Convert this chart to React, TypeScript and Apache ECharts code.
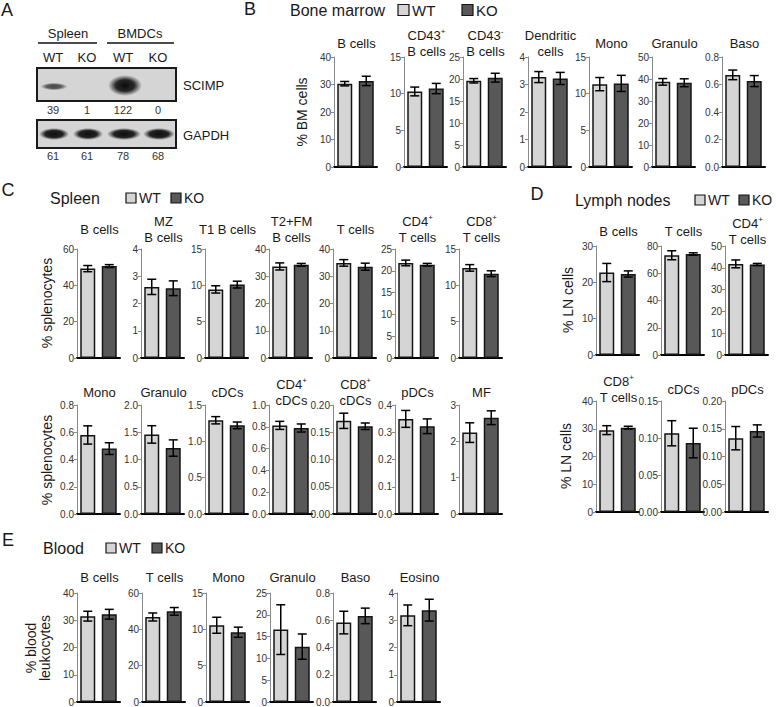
import React, { useEffect, useRef } from 'react';
import * as echarts from 'echarts';

// ---------- DATA ----------
const GROUPS = ['WT', 'KO'];

// Panel A: western blot quantification
const blotTissues = ['Spleen', 'BMDCs'];
const blotLanes = ['WT', 'KO', 'WT', 'KO'];
const scimpValues = [39, 1, 122, 0];
const gapdhValues = [61, 61, 78, 68];

// Panel B: Bone marrow
const bmTitles = ['B cells', 'CD43{s|+}\nB cells', 'CD43{s|-}\nB cells', 'Dendritic\ncells', 'Mono', 'Granulo', 'Baso'];
const bmWT = [30.3, 10.3, 19.6, 3.27, 11.3, 38.7, 0.67];
const bmWTErr = [0.8, 0.6, 0.5, 0.2, 0.9, 1.5, 0.035];
const bmKO = [31.3, 10.7, 20.3, 3.22, 11.4, 38.3, 0.625];
const bmKOErr = [1.7, 0.7, 1.0, 0.22, 1.1, 1.8, 0.04];
const bmMax = [40, 15, 25, 4, 15, 50, 0.8];
const bmStep = [10, 5, 5, 1, 5, 10, 0.2];
const bmDec = [0, 0, 0, 0, 0, 0, 1];

// Panel C (top): Spleen
const spTopTitles = ['B cells', 'MZ\nB cells', 'T1 B cells', 'T2+FM\nB cells', 'T cells', 'CD4{s|+}\nT cells', 'CD8{s|+}\nT cells'];
const spTopWT = [49.2, 2.61, 9.44, 33.6, 34.9, 21.8, 12.4];
const spTopWTErr = [1.7, 0.28, 0.5, 1.3, 1.2, 0.65, 0.45];
const spTopKO = [50.6, 2.56, 10.1, 34.2, 33.5, 21.4, 11.6];
const spTopKOErr = [0.8, 0.27, 0.47, 0.5, 1.3, 0.3, 0.4];
const spTopMax = [60, 4, 15, 40, 40, 25, 15];
const spTopStep = [20, 1, 5, 10, 10, 5, 5];
const spTopDec = [0, 0, 0, 0, 0, 0, 0];

// Panel C (bottom): Spleen
const spBotTitles = ['Mono', 'Granulo', 'cDCs', 'CD4{s|+}\ncDCs', 'CD8{s|+}\ncDCs', 'pDCs', 'MF'];
const spBotWT = [0.58, 1.46, 1.29, 0.813, 0.171, 0.349, 2.24];
const spBotWTErr = [0.067, 0.16, 0.05, 0.037, 0.014, 0.031, 0.27];
const spBotKO = [0.48, 1.21, 1.22, 0.789, 0.161, 0.322, 2.65];
const spBotKOErr = [0.043, 0.15, 0.046, 0.037, 0.006, 0.027, 0.19];
const spBotMax = [0.8, 2.0, 1.5, 1.0, 0.2, 0.4, 3];
const spBotStep = [0.2, 0.5, 0.5, 0.2, 0.05, 0.1, 1];
const spBotDec = [1, 1, 1, 1, 2, 1, 0];

// Panel D (top): Lymph nodes
const lnTopTitles = ['B cells', 'T cells', 'CD4{s|+}\nT cells'];
const lnTopWT = [22.7, 73.2, 41.8];
const lnTopWTErr = [2.5, 3.3, 1.8];
const lnTopKO = [22.3, 74.1, 41.5];
const lnTopKOErr = [0.85, 0.9, 0.5];
const lnTopMax = [30, 80, 50];
const lnTopStep = [10, 20, 10];
const lnTopDec = [0, 0, 0];

// Panel D (bottom): Lymph nodes
const lnBotTitles = ['CD8{s|+}\nT cells', 'cDCs', 'pDCs'];
const lnBotWT = [29.5, 0.1064, 0.133];
const lnBotWTErr = [1.6, 0.017, 0.021];
const lnBotKO = [30.4, 0.0932, 0.146];
const lnBotKOErr = [0.5, 0.02, 0.011];
const lnBotMax = [40, 0.15, 0.2];
const lnBotStep = [10, 0.05, 0.05];
const lnBotDec = [0, 2, 2];

// Panel E: Blood
const blTitles = ['B cells', 'T cells', 'Mono', 'Granulo', 'Baso', 'Eosino'];
const blWT = [31.5, 46.8, 10.56, 16.6, 0.583, 3.18];
const blWTErr = [1.8, 2.2, 1.1, 5.7, 0.083, 0.38];
const blKO = [32.2, 49.9, 9.6, 12.7, 0.632, 3.37];
const blKOErr = [1.8, 2.1, 0.7, 2.9, 0.057, 0.4];
const blMax = [40, 60, 15, 25, 0.8, 4];
const blStep = [10, 20, 5, 5, 0.2, 1];
const blDec = [0, 0, 0, 0, 1, 0];

// ---------- STYLE / LAYOUT ----------
const FONT = '"Liberation Sans", Arial, Helvetica, sans-serif';
const WT_COLOR = '#d5d5d5';
const KO_COLOR = '#585858';
const EDGE = '#151515';
const PLOT_W = 43;

const panels = [
  { titles: bmTitles, wt: bmWT, wtErr: bmWTErr, ko: bmKO, koErr: bmKOErr, max: bmMax, step: bmStep, dec: bmDec,
    xs: [334, 404, 463, 528, 589, 652, 722], top: 57, height: 110, titleY: 43 },
  { titles: spTopTitles, wt: spTopWT, wtErr: spTopWTErr, ko: spTopKO, koErr: spTopKOErr, max: spTopMax, step: spTopStep, dec: spTopDec,
    xs: [77, 141, 205, 269, 333, 395, 459], top: 249, height: 109, titleY: 229 },
  { titles: spBotTitles, wt: spBotWT, wtErr: spBotWTErr, ko: spBotKO, koErr: spBotKOErr, max: spBotMax, step: spBotStep, dec: spBotDec,
    xs: [77, 141, 205, 269, 333, 395, 459], top: 405, height: 109, titleY: 392 },
  { titles: lnTopTitles, wt: lnTopWT, wtErr: lnTopWTErr, ko: lnTopKO, koErr: lnTopKOErr, max: lnTopMax, step: lnTopStep, dec: lnTopDec,
    xs: [596, 661, 725], top: 246, height: 109, titleY: 231 },
  { titles: lnBotTitles, wt: lnBotWT, wtErr: lnBotWTErr, ko: lnBotKO, koErr: lnBotKOErr, max: lnBotMax, step: lnBotStep, dec: lnBotDec,
    xs: [596, 661, 725], top: 401, height: 111, titleY: 389 },
  { titles: blTitles, wt: blWT, wtErr: blWTErr, ko: blKO, koErr: blKOErr, max: blMax, step: blStep, dec: blDec,
    xs: [77, 142, 206, 270, 333, 397], top: 593, height: 110, titleY: 577 },
];

const letters = [
  { t: 'A', x: 7, y: 10 }, { t: 'B', x: 250, y: 9 }, { t: 'C', x: 8, y: 190 },
  { t: 'D', x: 537, y: 194 }, { t: 'E', x: 8, y: 540 },
];
const panelNames = [
  { t: 'Bone marrow', x: 290, y: 10 }, { t: 'Spleen', x: 50, y: 198 },
  { t: 'Lymph nodes', x: 575, y: 200 }, { t: 'Blood', x: 43, y: 548 },
];
const legends = [
  { x: 398, y: 10, dx: 64, box: 11, fs: 15 }, { x: 126, y: 198, dx: 45, box: 10, fs: 14 },
  { x: 695, y: 200, dx: 44, box: 10, fs: 14 }, { x: 106, y: 548, dx: 46, box: 10, fs: 14 },
];
const yNames = [
  { t: '% BM cells', x: 302, y: 112 },
  { t: '% splenocytes', x: 47, y: 303 },
  { t: '% splenocytes', x: 47, y: 460 },
  { t: '% LN cells', x: 568, y: 300 },
  { t: '% LN cells', x: 566, y: 456 },
  { t: '% blood\nleukocytes', x: 38, y: 648 },
];

function errorBar(params: any, api: any) {
  const x = api.value(0);
  const m = api.value(1);
  const e = api.value(2);
  const hi = api.coord([x, m + e]);
  const lo = api.coord([x, m - e]);
  const hw = 4.5;
  const st = { stroke: '#000', lineWidth: 1.5 };
  return {
    type: 'group',
    children: [
      { type: 'line', shape: { x1: hi[0], y1: hi[1], x2: lo[0], y2: lo[1] }, style: st },
      { type: 'line', shape: { x1: hi[0] - hw, y1: hi[1], x2: hi[0] + hw, y2: hi[1] }, style: st },
      { type: 'line', shape: { x1: lo[0] - hw, y1: lo[1], x2: lo[0] + hw, y2: lo[1] }, style: st },
    ],
  };
}

function txt(text: string, x: number, y: number, size: number, extra: any = {}, elExtra: any = {}) {
  return {
    type: 'text', x, y, silent: true, ...elExtra,
    style: {
      text, fontSize: size, fontFamily: FONT, fill: '#1a1a1a',
      align: 'center', verticalAlign: 'middle', textAlign: 'center', textVerticalAlign: 'middle',
      ...extra,
    },
  };
}

function buildOption() {
  const grid: any[] = [];
  const xAxis: any[] = [];
  const yAxis: any[] = [];
  const series: any[] = [];
  const graphic: any[] = [];
  let gi = 0;

  panels.forEach((p) => {
    p.wt.forEach((_, i) => {
      const x0 = p.xs[i];
      const dec = p.dec[i];
      grid.push({ left: x0, top: p.top, width: PLOT_W, height: p.height, containLabel: false });
      xAxis.push({
        type: 'category', gridIndex: gi, data: GROUPS,
        axisLine: { lineStyle: { color: '#000', width: 2 } },
        axisTick: { show: false }, axisLabel: { show: false },
      });
      yAxis.push({
        type: 'value', gridIndex: gi, min: 0, max: p.max[i], interval: p.step[i],
        splitLine: { show: false },
        axisLine: { show: true, lineStyle: { color: '#8a8a8a', width: 1 } },
        axisTick: { show: true, length: 3, lineStyle: { color: '#8a8a8a' } },
        axisLabel: { fontSize: 10, color: '#333', margin: 3, fontFamily: FONT, formatter: (v: number) => v.toFixed(dec) },
      });
      series.push({
        type: 'bar', xAxisIndex: gi, yAxisIndex: gi, barWidth: 15, silent: true,
        itemStyle: { borderColor: EDGE, borderWidth: 1.5 },
        data: [
          { value: p.wt[i], itemStyle: { color: WT_COLOR } },
          { value: p.ko[i], itemStyle: { color: KO_COLOR } },
        ],
      });
      series.push({
        type: 'custom', xAxisIndex: gi, yAxisIndex: gi, silent: true, z: 10,
        renderItem: errorBar,
        data: [[0, p.wt[i], p.wtErr[i]], [1, p.ko[i], p.koErr[i]]],
      });
      graphic.push(txt(p.titles[i], x0 + PLOT_W / 2 + 1, p.titleY, 13, {
        lineHeight: 16,
        rich: { s: { fontSize: 8, fontFamily: FONT, fill: '#1a1a1a', verticalAlign: 'top', lineHeight: 16 } },
      }));
      gi++;
    });
  });

  letters.forEach((l) => graphic.push(txt(l.t, l.x, l.y, 18)));
  panelNames.forEach((n) => graphic.push(txt(n.t, n.x, n.y, 16, { align: 'left', textAlign: 'left' })));
  legends.forEach((lg) => {
    const h = lg.box / 2;
    graphic.push({ type: 'rect', silent: true, shape: { x: lg.x, y: lg.y - h, width: lg.box, height: lg.box }, style: { fill: WT_COLOR, stroke: EDGE, lineWidth: 1.2 } });
    graphic.push(txt(GROUPS[0], lg.x + lg.box + 3, lg.y, lg.fs, { align: 'left', textAlign: 'left' }));
    graphic.push({ type: 'rect', silent: true, shape: { x: lg.x + lg.dx, y: lg.y - h, width: lg.box, height: lg.box }, style: { fill: KO_COLOR, stroke: EDGE, lineWidth: 1.2 } });
    graphic.push(txt(GROUPS[1], lg.x + lg.dx + lg.box + 3, lg.y, lg.fs, { align: 'left', textAlign: 'left' }));
  });
  yNames.forEach((n) => graphic.push(txt(n.t, n.x, n.y, 14, { lineHeight: 14 }, { rotation: Math.PI / 2 })));

  // ---- Panel A: western blot ----
  const laneX = [53, 87, 123, 158];
  const tissueX = [{ c: 68, a: 38, b: 97 }, { c: 140, a: 107, b: 174 }];
  blotTissues.forEach((t, i) => {
    graphic.push(txt(t, tissueX[i].c, 33, 13));
    graphic.push({ type: 'line', silent: true, shape: { x1: tissueX[i].a, y1: 43, x2: tissueX[i].b, y2: 43 }, style: { stroke: '#111', lineWidth: 1.5 } });
  });
  blotLanes.forEach((l, i) => graphic.push(txt(l, laneX[i], 57, 13)));
  const boxes = [{ y: 68, h: 33 }, { y: 120, h: 28 }];
  boxes.forEach((b) => {
    graphic.push({ type: 'rect', silent: true, shape: { x: 37, y: b.y, width: 139, height: b.h }, style: { fill: '#d5d5d5', stroke: '#1a1a1a', lineWidth: 2 } });
  });
  const scMax = Math.max(...scimpValues);
  scimpValues.forEach((v, i) => {
    const f = v / scMax;
    if (f > 0.05) {
      const a = Math.min(1, 0.55 + 0.45 * f);
      graphic.push({
        type: 'ellipse', silent: true,
        shape: { cx: laneX[i] + (i === 0 ? 1 : 2), cy: 87 - 1.5 * f, rx: 12 + 5 * f, ry: 3 + 7.5 * f * f },
        style: {
          fill: {
            type: 'radial', x: 0.5, y: 0.5, r: 0.5,
            colorStops: [
              { offset: 0, color: `rgba(12,12,12,${a})` },
              { offset: 0.55, color: `rgba(20,20,20,${a * 0.9})` },
              { offset: 1, color: 'rgba(40,40,40,0)' },
            ],
          },
        },
      });
    }
    graphic.push(txt(String(v), laneX[i], 110, 11, { fill: '#333' }));
  });
  const gMax = Math.max(...gapdhValues);
  gapdhValues.forEach((v, i) => {
    const f = v / gMax;
    graphic.push({
      type: 'ellipse', silent: true,
      shape: { cx: laneX[i] + 1, cy: 134, rx: 8 + 9 * f, ry: 6 },
      style: {
        fill: {
          type: 'radial', x: 0.5, y: 0.5, r: 0.5,
          colorStops: [
            { offset: 0, color: 'rgba(10,10,10,0.98)' },
            { offset: 0.6, color: 'rgba(15,15,15,0.9)' },
            { offset: 1, color: 'rgba(40,40,40,0)' },
          ],
        },
      },
    });
    graphic.push(txt(String(v), laneX[i], 156, 11, { fill: '#333' }));
  });
  graphic.push(txt('SCIMP', 183, 85, 13, { align: 'left', textAlign: 'left' }));
  graphic.push(txt('GAPDH', 183, 135, 13, { align: 'left', textAlign: 'left' }));

  return {
    animation: false,
    backgroundColor: '#ffffff',
    textStyle: { fontFamily: FONT },
    grid, xAxis, yAxis, series, graphic,
  };
}

export default function App() {
  const ref = useRef<HTMLDivElement>(null);
  useEffect(() => {
    const chart = echarts.init(ref.current as HTMLDivElement, null, { renderer: 'svg' });
    chart.setOption(buildOption() as any);
    return () => chart.dispose();
  }, []);
  return (
    <div
      ref={ref}
      style={{ position: 'fixed', left: 0, top: 0, width: 776, height: 707, background: '#fff' }}
    />
  );
}
